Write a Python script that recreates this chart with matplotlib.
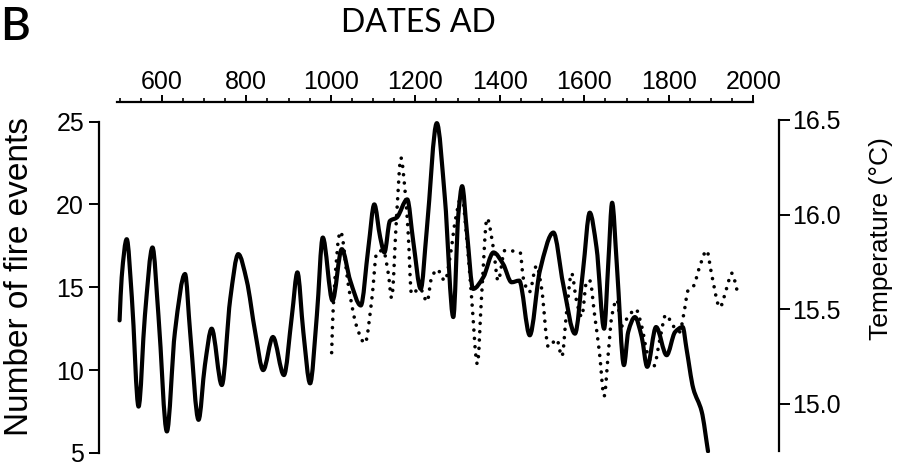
import matplotlib
matplotlib.use("Agg")
import numpy as np
import matplotlib.pyplot as plt
from matplotlib.ticker import FixedLocator
from matplotlib.path import Path
from matplotlib.patches import PathPatch

# ---- data ----
fire_years = [500, 505, 517, 529, 545, 560, 578, 592, 612, 631, 655, 667, 687, 702, 718,
              742, 762, 781, 801, 821, 840, 863, 889, 908, 921, 935, 951, 967, 981, 1004,
              1026, 1046, 1071, 1089, 1103, 1117, 1127, 1140, 1156, 1181, 1195, 1213, 1227,
              1251, 1270, 1290, 1302, 1311, 1322, 1337, 1361, 1385, 1408, 1428, 1446, 1471,
              1495, 1527, 1550, 1578, 1597, 1613, 1629, 1647, 1657, 1666, 1677, 1694, 1704,
              1720, 1736, 1749, 1770, 1795, 1815, 1833, 1842, 1858, 1878, 1893]
fire_counts = [13.0, 15.6, 17.9, 14.4, 7.8, 13.3, 17.4, 13.3, 6.3, 12.3, 15.8, 12.3, 7.0, 10.3, 12.5,
               9.1, 14.3, 17.0, 15.4, 12.3, 10.0, 12.0, 9.7, 13.3, 15.9, 12.3, 9.2, 13.3, 18.0, 14.2,
               17.3, 15.4, 13.9, 17.4, 20.0, 18.0, 17.1, 19.0, 19.2, 20.3, 17.8, 14.9, 18.4,
               24.9, 20.4, 13.2, 19.4, 21.1, 18.4, 14.9, 15.6, 17.1, 16.4, 15.3, 15.4, 12.1,
               16.0, 18.3, 15.2, 12.2, 16.0, 19.5, 17.4, 12.5, 16.5, 20.1, 16.4, 10.3, 12.3,
               13.2, 12.0, 10.2, 12.6, 10.9, 12.3, 12.6, 11.3, 8.9, 7.5, 5.1]

temp_years = [1002, 1006, 1023, 1042, 1061, 1081, 1097, 1109, 1124, 1136, 1144, 1156, 1166,
              1176, 1183, 1191, 1211, 1228, 1238, 1252, 1270, 1284, 1294, 1310, 1322, 1333,
              1347, 1357, 1370, 1385, 1396, 1412, 1448, 1456, 1470, 1487, 1499, 1515, 1535,
              1547, 1558, 1570, 1582, 1594, 1606, 1613, 1625, 1636, 1647, 1657, 1665, 1677,
              1688, 1704, 1722, 1736, 1749, 1765, 1779, 1793, 1811, 1826, 1836, 1846, 1858,
              1874, 1890, 1901, 1921, 1937, 1949, 1964]
temp_values = [15.27, 15.52, 15.91, 15.62, 15.41, 15.32, 15.55, 15.80, 15.81, 15.69, 15.56, 16.00, 16.30,
               16.12, 15.91, 15.58, 15.61, 15.54, 15.66, 15.71, 15.65, 15.80, 15.96, 16.10, 15.87, 15.57,
               15.21, 15.57, 15.98, 15.82, 15.65, 15.81, 15.80, 15.66, 15.59, 15.73, 15.61, 15.30, 15.34,
               15.25, 15.48, 15.69, 15.54, 15.46, 15.65, 15.65, 15.46, 15.27, 15.04, 15.27, 15.46, 15.55,
               15.41, 15.46, 15.50, 15.41, 15.27, 15.20, 15.34, 15.47, 15.41, 15.38, 15.48, 15.60, 15.62,
               15.73, 15.81, 15.69, 15.51, 15.61, 15.69, 15.58]

year_ticks = [600, 800, 1000, 1200, 1400, 1600, 1800, 2000]
fire_ticks = [5, 10, 15, 20, 25]
temp_ticks = [15.0, 15.5, 16.0, 16.5]
temp_labels = ["15.0", "15.5", "16.0", "16.5"]


def smooth_path(xs, ys):
    """Bezier path passing through every read point (shape-preserving tangents)."""
    x = np.asarray(xs, float)
    y = np.asarray(ys, float)
    h = np.diff(x)
    d = np.diff(y) / h
    m = np.zeros_like(x)
    for i in range(1, len(x) - 1):
        if d[i - 1] * d[i] > 0:
            w1 = 2 * h[i] + h[i - 1]
            w2 = h[i] + 2 * h[i - 1]
            m[i] = (w1 + w2) / (w1 / d[i - 1] + w2 / d[i])
    m[0], m[-1] = d[0], d[-1]
    verts = [(x[0], y[0])]
    codes = [Path.MOVETO]
    for i in range(len(x) - 1):
        verts += [(x[i] + h[i] / 3, y[i] + m[i] * h[i] / 3),
                  (x[i + 1] - h[i] / 3, y[i + 1] - m[i + 1] * h[i] / 3),
                  (x[i + 1], y[i + 1])]
        codes += [Path.CURVE4] * 3
    return Path(verts, codes)


# ---- figure layout (pixel based) ----
W, H = 903, 466
fig = plt.figure(figsize=(W / 100, H / 100), dpi=100)
plt.rcParams['font.family'] = ['Liberation Sans', 'DejaVu Sans']

x0, x1 = 99.3, 779.0
y_top, y_bot = 120.0, 453.0
px_per_fire = (y_bot - 121.5) / 20.0
px_per_temp = (y_bot - 120.0 - 2.0) / (16.5 - 14.75)
ax = fig.add_axes([x0 / W, 1 - y_bot / H, (x1 - x0) / W, (y_bot - y_top) / H])
ax.patch.set_alpha(0)

ax.set_xlim(452, 2061)
ax.set_ylim(5, 25 + (121.5 - y_top) / px_per_fire)

ax.add_patch(PathPatch(smooth_path(fire_years, fire_counts), fill=False, edgecolor='black',
                       lw=3.0, joinstyle='round', capstyle='round', zorder=3))

ax2 = ax.twinx()
ax2.set_ylim(14.75 - 2.0 / px_per_temp, 16.5)
ax2.add_patch(PathPatch(smooth_path(temp_years, temp_values), fill=False, edgecolor='black',
                        lw=2.6, linestyle=(0, (0.01, 2.3)), capstyle='round', zorder=3))

# spines
spine_lw = 1.6
for a in (ax, ax2):
    a.spines['bottom'].set_visible(False)
ax.spines['right'].set_visible(False)
ax2.spines['left'].set_visible(False)
ax2.spines['top'].set_visible(False)
ax.spines['left'].set_bounds(5, 25)
ax.spines['left'].set_linewidth(spine_lw)
ax2.spines['right'].set_bounds(14.75, 16.5)
ax2.spines['right'].set_linewidth(spine_lw)

# top date axis
ax.spines['top'].set_position(('outward', (y_top - 101.7) * 0.72))
ax.spines['top'].set_bounds(494, 2000)
ax.spines['top'].set_linewidth(spine_lw)
ax.xaxis.set_ticks_position('top')
ax.xaxis.set_major_locator(FixedLocator(year_ticks))
ax.xaxis.set_minor_locator(FixedLocator([v for v in range(500, 2001, 50) if v not in year_ticks]))
ax.set_xticklabels([str(v) for v in year_ticks])
ax.tick_params(axis='x', which='major', direction='out', length=5.0, width=1.4, pad=0.3, labelsize=18)
ax.tick_params(axis='x', which='minor', direction='out', length=2.6, width=1.2)

# left axis
ax.yaxis.set_major_locator(FixedLocator(fire_ticks))
ax.set_yticklabels([str(v) for v in fire_ticks])
ax.tick_params(axis='y', which='major', direction='out', length=7.5, width=1.4, pad=3.5, labelsize=18)

# right axis
ax2.yaxis.set_major_locator(FixedLocator(temp_ticks))
ax2.set_yticklabels(temp_labels)
ax2.tick_params(axis='y', which='major', direction='out', length=8, width=1.4, pad=1.5, labelsize=18)

# texts
fig.text(20 / W, 1 - 277 / H, "Number of fire events", rotation=90, ha='center', va='center',
         fontsize=24)
fig.text(881 / W, 1 - 238.5 / H, "Temperature (°C)", rotation=90, ha='center', va='center',
         fontsize=19)
fig.text(0 / W, 1 - 27 / H, "B", ha='left', va='center', fontsize=33, family=['Lato', 'DejaVu Sans'],
         fontweight='semibold')
fig.text(418 / W, 1 - 23.5 / H, "DATES AD", ha='center', va='center', fontsize=23,
         family=['Lato', 'DejaVu Sans'], fontweight='normal')

fig.savefig("out.png", dpi=100, facecolor='white')
